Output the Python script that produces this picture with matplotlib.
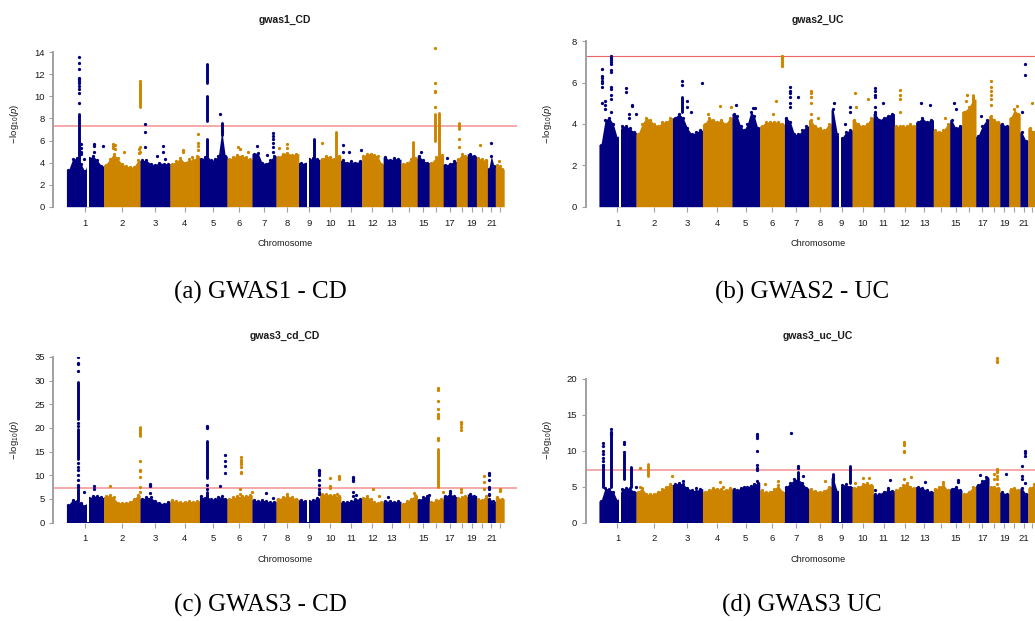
import matplotlib
matplotlib.use("Agg")
import matplotlib.pyplot as plt
import numpy as np

plt.rcParams['font.family'] = ['Liberation Sans', 'DejaVu Sans']
plt.rcParams['mathtext.fontset'] = 'custom'
plt.rcParams['mathtext.rm'] = 'Liberation Sans'
plt.rcParams['mathtext.it'] = 'Liberation Sans:italic'

# ---------------- data ----------------
chrom_len = [245, 241, 198, 195, 182, 165, 159, 149, 139, 139, 139, 142,
             116, 109, 79, 93, 86, 73, 60, 73, 52, 57]          # Mb per chromosome
chrom_labels = ['1', '2', '3', '4', '5', '6', '7', '8', '9', '10', '11', '12',
                '13', '', '15', '', '17', '', '19', '', '21', '']
gaps = {1: (134, 146), 9: (54, 68)}                             # unassayed regions (Mb)
genome_wide = 5e-8

# dense background: top height of the bulk of SNPs, in equal bins along each chromosome
bg_a = [[3.3, 4.3, 4.4, 3.9, 3.2, 4.4, 4.6, 4.2, 3.7], [3.8, 4.3, 4.8, 4.4, 3.9, 3.7, 3.6, 3.6, 4.2],
        [4.2, 4.2, 3.9, 3.8, 4.0, 3.9, 3.9], [3.9, 4.1, 4.4, 4.0, 4.3, 4.2, 4.6],
        [4.3, 4.5, 4.3, 4.2, 4.3, 4.6, 6.9, 4.6], [4.3, 4.5, 4.7, 4.6, 4.5, 4.3],
        [4.8, 4.9, 4.0, 3.9, 4.2, 4.6], [4.5, 4.8, 4.9, 4.7, 4.8], [4.0, 3.9, 4.3, 4.4, 4.3],
        [4.3, 4.6, 4.5, 4.3, 4.6], [4.2, 4.0, 4.1, 4.0, 4.1], [4.6, 4.8, 4.8, 4.7, 4.6, 3.9],
        [4.5, 4.2, 4.4, 4.3], [3.9, 4.0, 4.3, 4.4], [4.6, 4.2, 4.0], [4.0, 4.5, 4.6],
        [3.8, 3.9, 4.1], [4.3, 4.8, 4.6], [4.8, 4.6], [4.4, 4.3, 4.2], [3.4, 4.6, 3.7],
        [3.8, 3.7, 3.4]]
bg_b = [[3.0, 4.2, 4.3, 4.0, 3.3, 3.9, 3.9, 3.8, 3.6], [3.5, 4.0, 4.3, 4.2, 4.0, 3.9, 4.1, 4.1, 4.3],
        [4.3, 4.5, 4.3, 3.8, 3.5, 3.6, 3.7], [4.0, 4.3, 4.2, 4.1, 4.2, 4.0, 4.3],
        [4.5, 4.4, 3.9, 3.7, 4.0, 4.6, 4.4, 3.8], [3.9, 4.1, 4.1, 4.1, 4.1, 4.0],
        [4.3, 4.1, 3.5, 3.5, 3.7, 3.9], [4.2, 3.9, 3.8, 3.7, 4.0], [4.7, 3.5, 3.3, 3.6, 3.7],
        [4.2, 4.0, 3.9, 4.0, 4.3], [4.5, 4.2, 4.3, 4.4, 4.5], [3.9, 3.9, 3.9, 3.9, 4.0, 3.9],
        [4.1, 4.3, 4.1, 4.2], [3.7, 3.6, 3.7, 4.0], [4.2, 3.8, 3.9], [4.6, 4.8, 5.2],
        [3.4, 3.9, 4.2], [4.4, 4.2, 4.1], [4.0, 3.9], [4.3, 4.7, 4.5], [3.6, 3.2], [3.8, 3.6]]
bg_c = [[3.8, 4.8, 4.6, 4.2, 3.5, 5.2, 5.6, 5.6, 5.3], [5.5, 5.8, 5.3, 4.2, 4.2, 4.2, 4.4, 5.0, 5.8],
        [5.0, 5.3, 5.3, 4.6, 4.2, 4.0, 4.3], [4.7, 4.5, 4.3, 4.4, 4.5, 4.4, 4.6],
        [5.5, 5.2, 5.0, 5.0, 5.0, 5.3, 5.5, 5.0], [5.0, 5.3, 5.5, 5.6, 5.5, 5.8],
        [4.8, 4.5, 4.7, 4.6, 4.3, 4.4], [5.0, 5.3, 5.6, 5.3, 5.0], [4.8, 4.5, 4.6, 4.8, 5.2],
        [6.0, 6.0, 5.8, 5.8, 5.5], [4.3, 4.4, 4.5, 5.0, 5.0], [5.2, 5.5, 5.0, 4.3, 4.2, 4.3],
        [4.6, 4.5, 4.4, 4.5], [4.0, 4.5, 5.0, 5.8], [4.8, 5.3, 5.6], [4.3, 4.8, 5.0],
        [5.5, 6.2, 5.5], [5.2, 5.3, 5.5], [6.0, 5.7], [5.0, 4.8, 5.5], [5.0, 4.5], [5.3, 5.0]]
bg_d = [[3.0, 4.8, 4.6, 4.3, 3.0, 4.6, 4.8, 4.8, 4.3], [4.3, 4.8, 4.0, 3.9, 4.0, 4.3, 4.6, 5.0, 5.3],
        [5.3, 5.5, 5.3, 4.8, 4.5, 4.4, 4.7], [4.3, 4.5, 4.8, 4.7, 4.6, 4.5, 4.8],
        [4.6, 4.5, 4.8, 5.0, 5.0, 5.1, 5.3, 5.5], [4.5, 4.2, 4.3, 4.6, 5.2, 4.3],
        [5.0, 5.5, 6.0, 6.0, 5.5, 4.8], [4.6, 4.4, 4.3, 4.4, 5.0], [6.2, 4.3, 5.2, 5.3, 5.0],
        [4.8, 5.0, 5.3, 5.5, 5.2], [3.9, 4.0, 4.3, 4.5, 4.4], [4.5, 4.8, 5.2, 5.5, 5.0, 4.8],
        [5.0, 4.8, 4.5, 4.3], [4.6, 5.0, 5.3, 4.5], [4.7, 5.0, 4.5], [4.0, 4.3, 5.0],
        [5.2, 5.8, 6.2], [5.0, 5.0, 4.8], [4.2, 4.0], [4.6, 4.8, 4.5], [4.8, 4.0], [4.8, 5.3]]

# individual SNPs above the bulk: (chromosome, position Mb, [-log10 p ...])
dots_a = [(1, 81, [9.4, 10.3, 10.7, 10.9, 11.2, 11.4, 11.6, 11.7, 12.5, 13.0, 13.6]),
          (1, 97, [5.7, 5.3, 5.0, 4.8]), (1, 118, [4.3]), (1, 185, [5.7, 5.5, 5.0]), (1, 244, [5.5]),
          (2, 65, [5.7, 5.5, 5.3]), (2, 77, [5.6, 5.2]), (2, 138, [5.0]), (2, 237, [5.2, 4.9]),
          (2, 240, [11.4, 5.4, 5.0]), (3, 30, [7.5, 6.8, 5.4]), (3, 111, [4.6]), (3, 149, [5.5, 5.0]),
          (3, 166, [4.3]), (4, 85, [5.1, 5.0]), (4, 144, [4.5]), (4, 188, [6.6, 5.8, 5.5, 5.1]),
          (5, 139, [8.4]), (6, 76, [5.4]), (6, 87, [5.2]), (6, 142, [5.0]), (7, 32, [5.5]),
          (7, 99, [4.7]), (7, 138, [6.7, 6.4, 6.1, 5.8, 5.4, 5.0]), (8, 23, [5.3]), (8, 76, [5.7, 5.3]),
          (10, 17, [5.8]), (11, 15, [5.6, 5.0]), (11, 53, [5.0]), (11, 136, [5.1]), (15, 25, [5.0]),
          (16, 41, [14.4, 11.2, 10.5, 10.4, 9.0]), (16, 85, [4.7]), (17, 25, [4.4]),
          (18, 18, [6.1, 5.4]), (20, 26, [5.6]), (21, 24, [5.8]), (22, 27, [4.1])]
dots_b = [(1, 22, [6.65, 6.3, 6.2, 6.1, 6.0, 5.8, 5.0]), (1, 37, [5.1, 4.9, 4.7]),
          (1, 81, [7.3, 7.2, 7.1, 7.0, 6.9, 6.6, 6.5, 5.8, 5.7, 5.4, 5.2, 4.6]),
          (1, 176, [5.75, 5.55]), (1, 202, [4.5, 4.3]), (1, 220, [4.9, 4.85]), (1, 242, [4.5]),
          (3, 65, [6.1, 5.9]), (3, 98, [5.1, 4.8]), (3, 124, [4.6]), (3, 196, [6.0]),
          (4, 36, [4.5]), (4, 118, [4.85]), (4, 190, [4.8]), (5, 29, [4.9]), (5, 139, [4.75]),
          (5, 150, [4.75]), (6, 89, [4.5]), (6, 107, [5.1]), (6, 151, [7.3, 7.2, 7.1, 7.0, 6.9, 6.8]),
          (7, 39, [5.8, 5.6, 5.5, 5.3, 5.0, 4.8]), (7, 90, [5.3]), (8, 17, [5.6, 5.5, 5.3, 5.0, 4.5]),
          (8, 63, [4.3]), (9, 18, [5.0]), (9, 90, [4.0]), (9, 124, [4.6, 4.8]), (10, 17, [5.5]),
          (10, 28, [4.8]), (10, 106, [5.2]), (11, 11, [5.75, 5.6, 5.4, 5.3, 4.8, 4.6]), (11, 66, [5.0]),
          (12, 37, [5.65, 5.4, 5.2, 4.6]), (13, 38, [5.0]), (13, 98, [4.9]), (14, 77, [4.3]),
          (15, 27, [5.0]), (15, 40, [4.7]), (16, 27, [5.1]), (16, 36, [5.4]), (17, 38, [4.4]),
          (18, 12, [6.1, 5.8, 5.6, 5.4, 5.2, 4.9]), (20, 51, [4.85]), (21, 33, [6.9, 6.35]),
          (21, 11, [4.6]), (22, 25, [5.0])]
dots_c = [(1, 75, [32.0, 33.5, 33.8, 34.9, 21.0, 20.5, 12.5, 11.8, 11.0, 10.0, 9.0, 8.0, 7.5]),
          (1, 118, [6.5]), (1, 183, [7.7, 7.0]), (2, 44, [7.7]), (2, 240, [13.1, 11.0, 10.8, 9.6, 7.5, 6.5]),
          (3, 65, [8.2, 8.0, 7.7, 6.3]), (5, 49, [19.9, 20.2, 20.5, 8.0, 7.0]), (5, 137, [7.7]),
          (5, 166, [14.2, 13.0, 12.0, 10.5]), (6, 87, [7.0, 6.0]),
          (6, 91, [13.8, 13.3, 12.8, 12.3, 11.7, 10.6, 10.4]), (6, 164, [6.5]), (7, 92, [6.3]),
          (7, 142, [5.2]), (8, 76, [6.0]), (9, 137, [11.2, 10.8, 10.4, 10.0, 9.0, 8.0, 7.0, 6.5, 6.0]),
          (10, 70, [9.5, 7.7, 7.2]), (10, 115, [6.1]), (10, 126, [9.9, 9.6, 9.2]),
          (11, 81, [9.7, 9.4, 9.0, 8.7, 6.4, 5.5]), (11, 103, [5.9]), (12, 75, [7.0]), (12, 112, [5.7]),
          (13, 30, [5.4]), (14, 86, [6.2]), (15, 75, [5.8]),
          (16, 58, [17.5, 17.8, 22.0, 22.5, 23.0, 24.0, 25.6, 28.0, 28.5]), (16, 91, [6.4]),
          (17, 47, [6.7]), (18, 34, [21.2, 20.8, 20.1, 19.5, 7.0, 6.5]), (20, 53, [9.9, 8.5, 7.0]),
          (21, 13, [10.4, 10.0, 9.0, 7.5, 7.0, 6.0, 5.8]), (22, 34, [7.0, 6.7])]
dots_d = [(1, 30, [11.0, 10.7, 10.0, 9.5, 9.0, 8.5, 8.0]), (1, 81, [13.0, 12.6, 12.3]),
          (1, 169, [11.2, 10.9, 9.8]), (1, 244, [5.0]), (2, 24, [7.6, 5.0]), (2, 240, [6.4]),
          (3, 69, [5.7]), (3, 157, [4.8]), (4, 114, [5.6]), (4, 136, [5.0]),
          (5, 165, [12.3, 12.0, 11.8, 10.0, 8.0, 7.6, 7.3, 5.8]), (6, 34, [5.3]), (6, 123, [5.8]),
          (7, 46, [12.4]), (7, 90, [7.8, 7.6]), (7, 123, [6.4]), (8, 107, [5.8]), (10, 17, [5.5]),
          (10, 73, [6.2]), (10, 110, [6.2]), (11, 11, [4.5]), (11, 99, [4.8]), (11, 110, [5.9]),
          (12, 64, [11.2, 11.0, 10.8, 10.0, 9.8, 6.0]), (12, 110, [6.3]), (13, 60, [5.6]),
          (14, 66, [5.6]), (15, 56, [5.9, 5.6]), (17, 27, [6.6]), (17, 71, [6.3]),
          (18, 54, [22.8, 22.5, 22.3, 7.5, 7.2, 7.0, 6.5, 6.0, 5.3]), (18, 34, [6.7, 6.0]),
          (19, 38, [6.8]), (21, 11, [7.9, 6.4, 6.0]), (21, 33, [9.9, 9.6, 9.3, 5.5])]

# runs of SNPs so dense they merge into a column: (chromosome, position Mb, low, high)
cols_a = [(1, 81, 4.0, 8.4), (2, 240, 9.0, 11.2), (5, 49, 4.3, 6.1), (5, 49, 7.8, 10.0),
          (5, 49, 11.2, 12.9), (5, 152, 6.5, 7.6), (9, 104, 4.3, 6.1), (10, 110, 4.5, 6.8),
          (14, 82, 4.3, 5.9), (16, 41, 6.0, 8.4), (16, 63, 4.5, 8.5), (18, 18, 7.0, 7.6)]
cols_b = [(3, 65, 4.6, 5.3), (16, 76, 4.8, 5.4)]
cols_c = [(1, 75, 4.5, 7.0), (1, 75, 13.5, 19.7), (1, 75, 21.8, 29.7), (2, 240, 18.2, 20.2),
          (5, 49, 5.0, 6.5), (5, 49, 9.5, 17.2), (16, 58, 7.5, 15.5)]
cols_d = [(1, 30, 5.0, 8.0), (1, 81, 5.0, 12.3), (1, 169, 6.0, 9.5), (1, 213, 5.0, 7.7),
          (2, 79, 6.5, 8.1), (9, 13, 5.0, 6.7), (9, 123, 5.5, 7.8), (7, 90, 6.2, 7.0)]

titles = ['gwas1_CD', 'gwas2_UC', 'gwas3_cd_CD', 'gwas3_uc_UC']
captions = ['(a) GWAS1 - CD', '(b) GWAS2 - UC', '(c) GWAS3 - CD', '(d) GWAS3 UC']
y_max = [15, 8, 35, 23]
y_step = [2, 2, 5, 5]
y_top_tick = [14, 8, 35, 20]

# ---------------- drawing ----------------
NAVY = '#000080'
ORANGE = '#CD8500'
GREY = '#a0a0a0'
TXT = '#1a1a1a'
W, H = 1035, 621
DOT = 5.5

fig = plt.figure(figsize=(W / 100, H / 100), dpi=100)
fig.patch.set_facecolor('white')

starts = np.concatenate([[0], np.cumsum(chrom_len)[:-1]])
total = float(sum(chrom_len))
centers = starts + np.array(chrom_len) / 2.0


def gx(ch, pos):
    return starts[ch - 1] + pos


def chrom_color(ch):
    return NAVY if ch % 2 == 1 else ORANGE


def draw(ax, bg, dots, cols, ymax, ystep, ytop, line_color, line_w):
    for i, L in enumerate(chrom_len):
        ch = i + 1
        c = chrom_color(ch)
        h = np.array(bg[i])
        n = len(h)
        s = starts[i]
        xc = s + (np.arange(n) + 0.5) * L / n
        xs = np.concatenate([[s], xc, [s + L + 2]])
        ys = np.concatenate([[h[0]], h, [h[-1]]])
        ax.fill_between(xs, 0, ys, color=c, lw=0, zorder=2)
        ax.scatter(xc, h, s=DOT, color=c, lw=0, zorder=3)
        if ch in gaps:
            g0, g1 = gaps[ch]
            ax.fill_between([s + g0, s + g1], 0, h.max() + 0.6, color='white', lw=0, zorder=3.5)
    for ch, pos, lo, hi in cols:
        x = gx(ch, pos)
        ax.plot([x, x], [lo, hi], color=chrom_color(ch), lw=2.1, solid_capstyle='round', zorder=4)
    for ch, pos, vals in dots:
        x = gx(ch, pos)
        ax.scatter([x] * len(vals), vals, s=DOT, color=chrom_color(ch), lw=0, zorder=5)
    ax.axhline(-np.log10(genome_wide), color=line_color, lw=line_w, zorder=1.5)

    ax.set_xlim(-0.03 * total, 1.03 * total)
    ax.set_ylim(0, ymax)
    ax.set_xticks(centers)
    ax.set_xticklabels(chrom_labels)
    ax.set_yticks(np.arange(0, ytop + 0.01, ystep))
    for sp in ['top', 'right', 'bottom']:
        ax.spines[sp].set_visible(False)
    ax.spines['left'].set_color(GREY)
    ax.spines['left'].set_linewidth(1.4)
    ax.spines['left'].set_bounds(0, ytop)
    ax.tick_params(axis='x', length=3.4, width=0.8, color=GREY, pad=5.2,
                   labelsize=6.8, labelcolor=TXT)
    ax.tick_params(axis='y', length=3.2, width=0.8, color=GREY, pad=3.0,
                   labelsize=6.8, labelcolor=TXT)
    ax.set_facecolor('none')


def fig_text(x, y, s, **kw):
    fig.text(x / W, 1 - y / H, s, ha='center', va='center', **kw)


panel_left = [53.3, 585.8, 53.3, 585.8]
panel_top = [41.2, 41.2, 357.0, 357.0]
pw, ph = 463.7, 165.5
bgs = [bg_a, bg_b, bg_c, bg_d]
dots_all = [dots_a, dots_b, dots_c, dots_d]
cols_all = [cols_a, cols_b, cols_c, cols_d]
line_colors = ['#f5a3a3', '#ee6363', '#f5a3a3', '#f5a3a3']
line_widths = [1.3, 0.8, 1.3, 1.3]
cap_pos = [(260, 292), (802, 292), (260, 605), (802, 605)]

for k in range(4):
    L, T = panel_left[k], panel_top[k]
    ax = fig.add_axes([L / W, 1 - (T + ph) / H, pw / W, ph / H])
    draw(ax, bgs[k], dots_all[k], cols_all[k], y_max[k], y_step[k], y_top_tick[k],
         line_colors[k], line_widths[k])
    cx = L + pw / 2
    fig_text(cx, T - 21.2, titles[k], fontsize=7.5, fontweight='bold', color=TXT)
    fig_text(cx, T + ph + 36.6, 'Chromosome', fontsize=6.6, color=TXT)
    fig_text(L - 38.5, T + ph / 2, r'$-\,\mathrm{log}_{10}(\mathit{p})$', fontsize=6.8,
             rotation=90, color=TXT)
    fig_text(cap_pos[k][0], cap_pos[k][1], captions[k], fontsize=18,
             family='Liberation Serif', color='black')

fig.savefig('out.png', dpi=100, facecolor='white')
